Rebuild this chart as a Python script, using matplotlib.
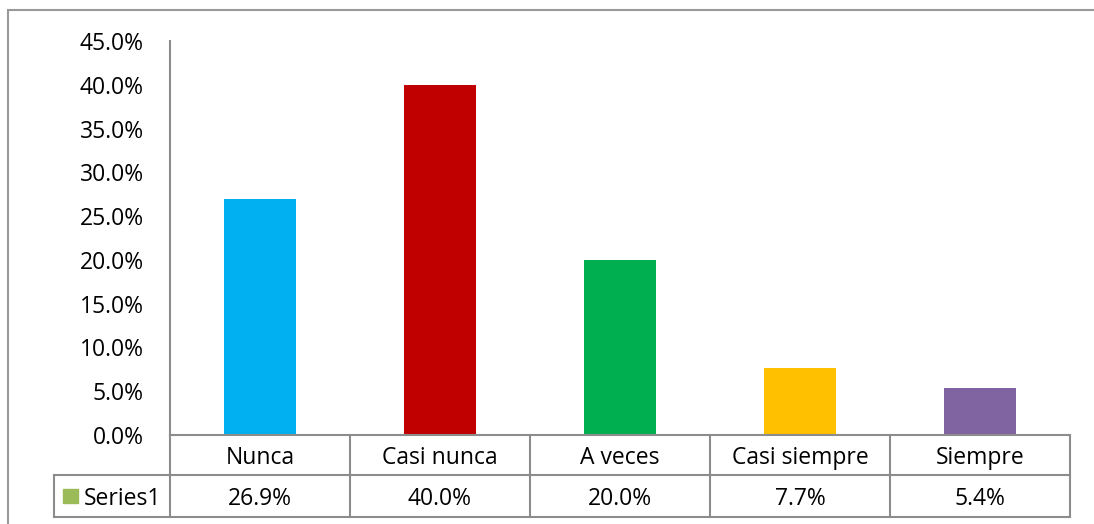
import matplotlib
matplotlib.use("Agg")
import matplotlib.pyplot as plt
from matplotlib.patches import Rectangle
from matplotlib.ticker import FuncFormatter

# data
categories = ["Nunca", "Casi nunca", "A veces", "Casi siempre", "Siempre"]
values = [0.269, 0.400, 0.200, 0.077, 0.054]
value_labels = ["26.9%", "40.0%", "20.0%", "7.7%", "5.4%"]
series_name = "Series1"
bar_colors = ["#00B0F0", "#C00000", "#00B050", "#FFC000", "#8064A2"]

plt.rcParams['font.family'] = ['Open Sans', 'DejaVu Sans']
FS = 16.5
GRID = "#8C8C8C"

W, H = 1094, 524
fig = plt.figure(figsize=(W / 100, H / 100), dpi=100)

# outer chart border (runs off right and bottom edges)
fig.add_artist(Rectangle((8 / W, -0.1), 1.2, 1 - 10 / H + 0.1,
                         transform=fig.transFigure, fill=False,
                         edgecolor="#999999", lw=1.5))

ax = fig.add_axes([170 / W, 89 / H, 900 / W, 394 / H])
x = list(range(len(categories)))
ax.bar(x, values, width=0.405, color=bar_colors)
ax.set_xlim(-0.5, len(categories) - 0.5)
ax.set_ylim(0, 0.45)
ax.set_yticks([i * 0.05 for i in range(10)])
ax.yaxis.set_major_formatter(FuncFormatter(lambda v, p: f"{v * 100:.1f}%"))
ax.tick_params(axis="y", length=0, pad=19, labelsize=FS)
ax.set_xticks([])
for s in ["top", "right", "bottom"]:
    ax.spines[s].set_visible(False)
ax.spines["left"].set_color(GRID)
ax.spines["left"].set_linewidth(1.5)

# data table under the axis
tr = ax.get_xaxis_transform()
r1 = -40 / 394
r2 = -82 / 394
left = (54 - 170) / 180 - 0.5
n = len(categories)
kw = dict(transform=tr, color=GRID, lw=1.5, clip_on=False, solid_capstyle="projecting")
ax.plot([-0.5, n - 0.5], [0, 0], **kw)
ax.plot([left, n - 0.5], [r1, r1], **kw)
ax.plot([left, n - 0.5], [r2, r2], **kw)
for b in range(n + 1):
    ax.plot([b - 0.5, b - 0.5], [0, r2], **kw)
ax.plot([left, left], [r1, r2], **kw)

dy = -3 / 394
for i, (c, lab) in enumerate(zip(categories, value_labels)):
    ax.text(i, r1 / 2 + dy, c, transform=tr, ha="center", va="center", fontsize=FS)
    ax.text(i, (r1 + r2) / 2 + dy, lab, transform=tr, ha="center", va="center", fontsize=FS)

key_x = (63 - 170) / 180 - 0.5
ax.add_patch(Rectangle((key_x, (r1 + r2) / 2 - 7 / 394), 15 / 180, 14 / 394,
                       transform=tr, color="#9BBB59", clip_on=False))
ax.text((84 - 170) / 180 - 0.5, (r1 + r2) / 2 + dy, series_name, transform=tr,
        ha="left", va="center", fontsize=FS)

fig.savefig("out.png", dpi=100)
